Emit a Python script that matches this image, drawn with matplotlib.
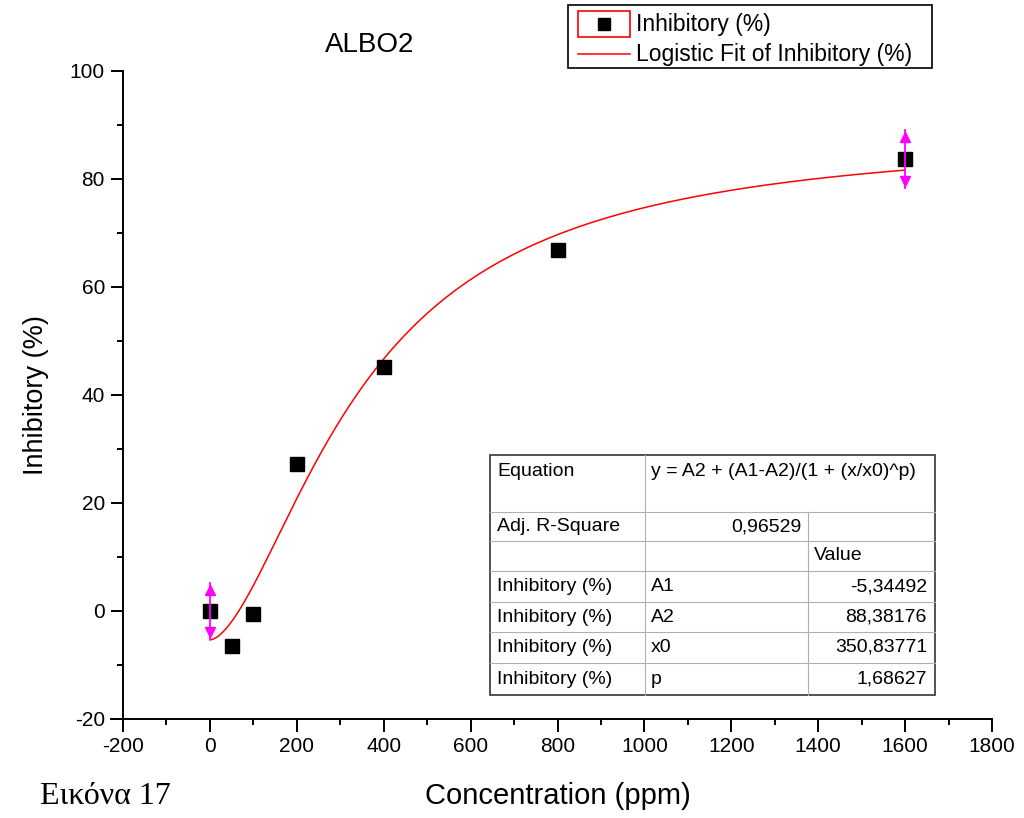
import numpy as np
import matplotlib.pyplot as plt
from matplotlib.lines import Line2D
from matplotlib.patches import Rectangle

plt.rcParams['font.family'] = ['Liberation Sans', 'DejaVu Sans']

# measured points
conc = [0, 50, 100, 200, 400, 800, 1600]
inhib = [0.0, -6.4, -0.6, 27.2, 45.2, 66.9, 83.7]
inhib_err = [5.2, 0, 0, 0, 0, 0, 5.3]

# logistic fit parameters (as printed in the chart)
A1, A2, x0, p = -5.34492, 88.38176, 350.83771, 1.68627
adj_r2 = "0,96529"
param_names = ["A1", "A2", "x0", "p"]
param_values = ["-5,34492", "88,38176", "350,83771", "1,68627"]

W, H = 1024, 818
fig = plt.figure(figsize=(W / 100, H / 100), dpi=100)
ax = fig.add_axes([123 / W, 1 - 719 / H, (992 - 123) / W, (719 - 71) / H])

xf = np.linspace(0, 1600, 400)
yf = A2 + (A1 - A2) / (1 + (xf / x0) ** p)
ax.plot(xf, yf, color='red', lw=1.1, zorder=2)

ax.plot(conc, inhib, 's', color='black', ms=10, zorder=3)

# error bars with arrow heads (only for points that have them)
for xv, yv, ev in zip(conc, inhib, inhib_err):
    if ev > 0:
        ax.plot([xv, xv], [yv - ev, yv + ev], color='magenta', lw=1.3, zorder=4)
        ax.plot(xv, yv + ev - 1.3, '^', color='magenta', ms=7, zorder=4)
        ax.plot(xv, yv - ev + 1.3, 'v', color='magenta', ms=7, zorder=4)

ax.set_xlim(-200, 1800)
ax.set_ylim(-20, 100)
ax.set_xticks(np.arange(-200, 1801, 200))
ax.set_xticks(np.arange(-200, 1801, 100), minor=True)
ax.set_yticks(np.arange(-20, 101, 20))
ax.set_yticks(np.arange(-20, 101, 10), minor=True)
ax.set_xticklabels([str(v) for v in range(-200, 1801, 200)])
ax.set_yticklabels([str(v) for v in range(-20, 101, 20)])
for s in ['top', 'right']:
    ax.spines[s].set_visible(False)
for s in ['left', 'bottom']:
    ax.spines[s].set_linewidth(1.4)
ax.tick_params(which='major', length=9, width=1.4, labelsize=15, pad=4)
ax.tick_params(which='minor', length=4.5, width=1.4)
# small stub of the x axis left of the y axis, as in Origin
ax.plot([-228, -200], [-20, -20], color='black', lw=1.4, clip_on=False)

ax.set_xlabel("Concentration (ppm)", fontsize=21, labelpad=19)
ax.set_ylabel("Inhibitory (%)", fontsize=19.5, labelpad=15)
ax.set_title("ALBO2", fontsize=20, pad=14, x=0.284)

fig.text(40 / W, 1 - 797 / H, "Εικόνα 17", fontsize=23, family='Liberation Serif', va='center')


def px(x, y):
    return x / W, 1 - y / H


# legend box (drawn by hand to match the Origin look)
fig.patches.append(Rectangle(px(568, 68), 364 / W, 63 / H, transform=fig.transFigure,
                             fill=False, ec='black', lw=1.2))
fig.patches.append(Rectangle(px(578, 37), 52 / W, 26 / H, transform=fig.transFigure,
                             fill=False, ec='red', lw=1.2))
fig.lines.append(Line2D([604 / W], [1 - 24 / H], marker='s', color='black', ms=8,
                        transform=fig.transFigure))
fig.lines.append(Line2D([578 / W, 630 / W], [1 - 54 / H, 1 - 54 / H], color='red', lw=1.1,
                        transform=fig.transFigure))
fig.text(*px(636, 24), "Inhibitory (%)", fontsize=16.5, va='center')
fig.text(*px(636, 54), "Logistic Fit of Inhibitory (%)", fontsize=16.5, va='center')

# fit result table
tx = [490, 645, 808, 935]
ty = [455, 512, 541, 571, 602, 632, 663, 695]
fig.patches.append(Rectangle(px(tx[0], ty[-1]), (tx[3] - tx[0]) / W, (ty[-1] - ty[0]) / H,
                             transform=fig.transFigure, fill=False, ec='#333333', lw=1.2))
grid_c = '#b0b0b0'
for yy in ty[1:-1]:
    fig.lines.append(Line2D([tx[0] / W, tx[3] / W], [1 - yy / H] * 2, color=grid_c, lw=0.8,
                            transform=fig.transFigure))
fig.lines.append(Line2D([tx[1] / W] * 2, [1 - ty[0] / H, 1 - ty[-1] / H], color=grid_c, lw=0.8,
                        transform=fig.transFigure))
fig.lines.append(Line2D([tx[2] / W] * 2, [1 - ty[1] / H, 1 - ty[-1] / H], color=grid_c, lw=0.8,
                        transform=fig.transFigure))

fs = 14
fig.text(*px(tx[0] + 7, 472), "Equation", fontsize=fs, va='center')
fig.text(*px(tx[1] + 6, 472), "y = A2 + (A1-A2)/(1 + (x/x0)^p)", fontsize=fs, va='center')
fig.text(*px(tx[0] + 7, (ty[1] + ty[2]) / 2), "Adj. R-Square", fontsize=fs, va='center')
fig.text(*px(tx[2] - 6, (ty[1] + ty[2]) / 2), adj_r2, fontsize=fs, va='center', ha='right')
fig.text(*px(tx[2] + 6, (ty[2] + ty[3]) / 2), "Value", fontsize=fs, va='center')
for i, (nm, val) in enumerate(zip(param_names, param_values)):
    yc = (ty[3 + i] + ty[4 + i]) / 2
    fig.text(*px(tx[0] + 7, yc), "Inhibitory (%)", fontsize=fs, va='center')
    fig.text(*px(tx[1] + 6, yc), nm, fontsize=fs, va='center')
    fig.text(*px(tx[3] - 8, yc), val, fontsize=fs, va='center', ha='right')

fig.savefig("out.png", dpi=100)
